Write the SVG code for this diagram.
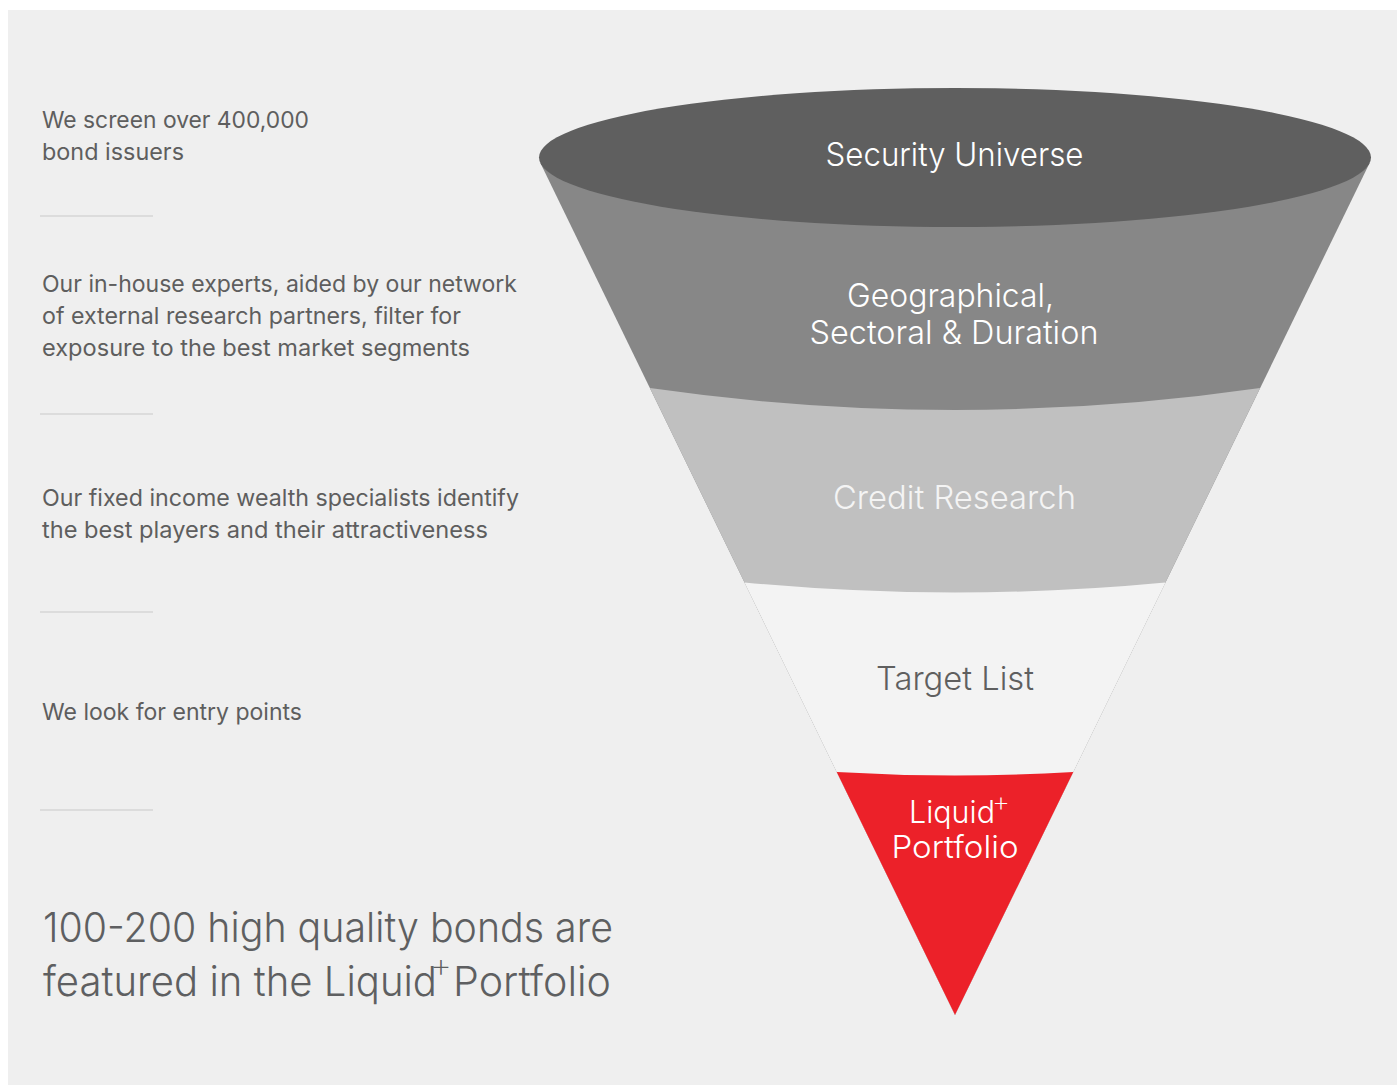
<svg xmlns="http://www.w3.org/2000/svg" width="1397" height="1086" viewBox="0 0 1397 1086">
  <style>
    .note { font-family: Inter, "Liberation Sans", sans-serif; font-size: 23px; fill: #5e5e5e; }
    .big { font-family: Inter, "Liberation Sans", sans-serif; font-size: 41px; font-weight: 350; fill: #5e5f61; }
    .lbl { font-family: Inter, "Liberation Sans", sans-serif; font-size: 33px; font-weight: 300; text-anchor: middle; }
    .sup { font-weight: 250; }
    .rule { stroke: #c9c9c9; stroke-width: 1.2; }
  </style>

  <!-- canvas -->
  <rect width="1397" height="1086" fill="#ffffff"/>
  <rect x="8" y="10" width="1389" height="1075" fill="#efefef"/>

  <!-- left-hand descriptions -->
  <g id="desc-1">
    <text class="note" x="42" y="128" textLength="267" lengthAdjust="spacingAndGlyphs">We screen over 400,000</text>
    <text class="note" x="42" y="160" textLength="142" lengthAdjust="spacingAndGlyphs">bond issuers</text>
  </g>
  <g id="desc-2">
    <text class="note" x="42" y="292" textLength="475" lengthAdjust="spacingAndGlyphs">Our in-house experts, aided by our network</text>
    <text class="note" x="42" y="324" textLength="419" lengthAdjust="spacingAndGlyphs">of external research partners, filter for</text>
    <text class="note" x="42" y="356" textLength="428" lengthAdjust="spacingAndGlyphs">exposure to the best market segments</text>
  </g>
  <g id="desc-3">
    <text class="note" x="42" y="506" textLength="477" lengthAdjust="spacingAndGlyphs">Our fixed income wealth specialists identify</text>
    <text class="note" x="42" y="538" textLength="446" lengthAdjust="spacingAndGlyphs">the best players and their attractiveness</text>
  </g>
  <g id="desc-4">
    <text class="note" x="42" y="720" textLength="260" lengthAdjust="spacingAndGlyphs">We look for entry points</text>
  </g>
  <g id="dividers">
    <line class="rule" x1="40" y1="216" x2="153" y2="216"/>
    <line class="rule" x1="40" y1="414" x2="153" y2="414"/>
    <line class="rule" x1="40" y1="612" x2="153" y2="612"/>
    <line class="rule" x1="40" y1="810" x2="153" y2="810"/>
  </g>
  <g id="summary">
    <text class="big" x="43" y="942" textLength="570" lengthAdjust="spacingAndGlyphs">100-200 high quality bonds are</text>
    <text class="big"><tspan x="43" y="996" textLength="394" lengthAdjust="spacingAndGlyphs">featured in the Liquid</tspan><tspan class="sup" x="430" y="977" font-size="34">+</tspan><tspan x="453" y="996" textLength="158" lengthAdjust="spacingAndGlyphs">Portfolio</tspan></text>
  </g>

  <!-- funnel, drawn from the widest stage down; each stage covers the tip of the one above -->
  <g id="stage-geo">
    <path d="M540.4,163.1 L955,1015 L1369.6,163.1 Z" fill="#878787"/>
  </g>
  <g id="stage-credit">
    <path d="M649.9,388 Q955,432 1260.1,388 L955,1015 Z" fill="#c0c0c0"/>
  </g>
  <g id="stage-target">
    <path d="M744.5,582.5 Q955,602.5 1165.5,582.5 L955,1015 Z" fill="#f3f3f3"/>
  </g>
  <g id="stage-portfolio">
    <path d="M836.7,772 Q955,779 1073.3,772 L955,1015 Z" fill="#ec2129"/>
  </g>
  <g id="stage-universe">
    <ellipse cx="955" cy="157.5" rx="416" ry="69.5" fill="#5f5f5f"/>
  </g>

  <!-- stage labels -->
  <g id="labels">
    <text class="lbl" x="954.5" y="166" fill="#ffffff" textLength="258" lengthAdjust="spacingAndGlyphs">Security Universe</text>
    <text class="lbl" x="950.5" y="307" fill="#ffffff" textLength="207" lengthAdjust="spacingAndGlyphs">Geographical,</text>
    <text class="lbl" x="954" y="344" fill="#ffffff" textLength="289" lengthAdjust="spacingAndGlyphs">Sectoral &amp; Duration</text>
    <text class="lbl" x="954.5" y="509" fill="#f4f4f4" textLength="243" lengthAdjust="spacingAndGlyphs">Credit Research</text>
    <text class="lbl" x="955" y="690" fill="#5f5f5f" textLength="158" lengthAdjust="spacingAndGlyphs">Target List</text>
    <text class="lbl" fill="#ffffff" style="text-anchor:start;font-size:31px"><tspan x="909" y="823" textLength="86" lengthAdjust="spacingAndGlyphs">Liquid</tspan><tspan class="sup" x="992" y="811" font-size="28">+</tspan></text>
    <text class="lbl" x="955" y="858" fill="#ffffff" style="font-size:31px" textLength="127" lengthAdjust="spacingAndGlyphs">Portfolio</text>
  </g>
</svg>
